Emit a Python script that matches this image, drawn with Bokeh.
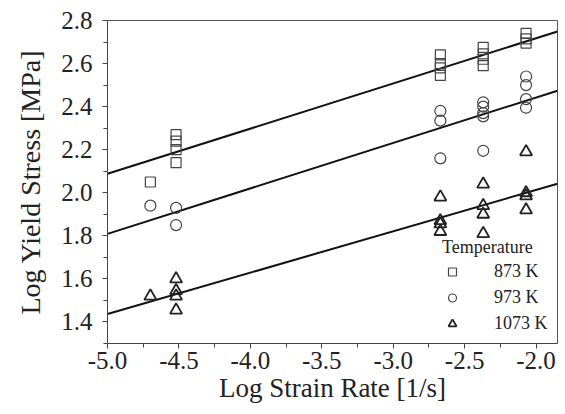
from bokeh.plotting import figure
from bokeh.models import (Range1d, FixedTicker, NumeralTickFormatter,
                          Legend, LegendItem)
from bokeh.embed import file_html
from bokeh.resources import INLINE

# ---- data ----
x873 = [-4.70, -4.52, -4.52, -4.52, -4.52,
        -2.67, -2.67, -2.67, -2.67,
        -2.37, -2.37, -2.37, -2.37,
        -2.07, -2.07, -2.07]
y873 = [2.05, 2.27, 2.24, 2.20, 2.14,
        2.64, 2.60, 2.58, 2.545,
        2.675, 2.645, 2.62, 2.59,
        2.74, 2.715, 2.695]

x973 = [-4.70, -4.52, -4.52,
        -2.67, -2.67, -2.67,
        -2.37, -2.37, -2.37, -2.37, -2.37,
        -2.07, -2.07, -2.07, -2.07]
y973 = [1.94, 1.93, 1.85,
        2.38, 2.335, 2.16,
        2.42, 2.40, 2.37, 2.355, 2.195,
        2.54, 2.50, 2.435, 2.395]

x1073 = [-4.70, -4.52, -4.52, -4.52, -4.52,
         -2.67, -2.67, -2.67, -2.67,
         -2.37, -2.37, -2.37, -2.37,
         -2.07, -2.07, -2.07, -2.07]
y1073 = [1.52, 1.60, 1.545, 1.52, 1.455,
         1.98, 1.87, 1.855, 1.82,
         2.04, 1.94, 1.90, 1.81,
         2.19, 2.00, 1.985, 1.92]

# fitted lines (end points)
fit_x = [-5.0, -1.85]
fit873 = [2.088, 2.749]
fit973 = [1.809, 2.474]
fit1073 = [1.437, 2.042]

x_ticks = [-5.0, -4.5, -4.0, -3.5, -3.0, -2.5, -2.0]
x_minor = [-5.0, -4.75, -4.5, -4.25, -4.0, -3.75, -3.5, -3.25, -3.0,
           -2.75, -2.5, -2.25, -2.0]
y_ticks = [1.4, 1.6, 1.8, 2.0, 2.2, 2.4, 2.6, 2.8]
y_minor = [1.3, 1.4, 1.5, 1.6, 1.7, 1.8, 1.9, 2.0, 2.1, 2.2, 2.3, 2.4,
           2.5, 2.6, 2.7, 2.8]

legend_labels = ["873 K", "973 K", "1073 K"]

FONT = "Liberation Serif"

p = figure(width=565, height=414,
           x_range=Range1d(-5.0, -1.85), y_range=Range1d(1.30, 2.80),
           output_backend="svg", toolbar_location=None,
           min_border_left=107, min_border_right=8,
           min_border_top=20, min_border_bottom=71)

p.background_fill_color = "white"
p.border_fill_color = "white"
p.outline_line_color = "#555555"
p.outline_line_width = 1
p.grid.visible = False

for fy in (fit873, fit973, fit1073):
    p.line(fit_x, fy, line_color="#111111", line_width=2)

r1 = p.scatter(x873, y873, marker="square", size=10, fill_color=None,
               line_color="#444444", line_width=1.2)
r2 = p.scatter(x973, y973, marker="circle", size=11, fill_color=None,
               line_color="#444444", line_width=1.2)
r3 = p.scatter(x1073, y1073, marker="triangle", size=12, fill_color=None,
               line_color="#222222", line_width=1.8)

xa = p.xaxis[0]
ya = p.yaxis[0]
xa.ticker = FixedTicker(ticks=x_ticks, minor_ticks=x_minor)
ya.ticker = FixedTicker(ticks=y_ticks, minor_ticks=y_minor)
for ax in (xa, ya):
    ax.formatter = NumeralTickFormatter(format="0.0")
    ax.axis_line_color = "#444444"
    ax.major_tick_line_color = "#444444"
    ax.minor_tick_line_color = "#444444"
    ax.major_tick_in = 0
    ax.major_tick_out = 5
    ax.minor_tick_in = 0
    ax.minor_tick_out = 4
    ax.major_label_text_font = FONT
    ax.major_label_text_font_size = "25px"
    ax.major_label_text_color = "#222222"
    ax.axis_label_text_font = FONT
    ax.axis_label_text_font_style = "normal"
    ax.axis_label_text_color = "#222222"
xa.axis_label_text_font_size = "27px"
ya.axis_label_text_font_size = "28px"
xa.axis_label = "Log Strain Rate [1/s]"
ya.axis_label = "Log Yield Stress [MPa]"
xa.major_label_standoff = 3
xa.axis_label_standoff = 1
ya.major_label_standoff = 10
ya.axis_label_standoff = 12

legend = Legend(items=[LegendItem(label=legend_labels[0], renderers=[r1]),
                       LegendItem(label=legend_labels[1], renderers=[r2]),
                       LegendItem(label=legend_labels[2], renderers=[r3])],
                title="Temperature",
                location=(335, 8))
legend.title_text_font = FONT
legend.title_text_font_size = "18px"
legend.title_text_font_style = "normal"
legend.title_text_color = "#222222"
legend.title_standoff = 2
legend.label_text_font = FONT
legend.label_text_font_size = "18px"
legend.label_text_color = "#222222"
legend.glyph_width = 20
legend.glyph_height = 23
legend.label_height = 23
legend.label_standoff = 32
legend.spacing = 3
legend.padding = 0
legend.margin = 0
legend.border_line_color = None
legend.background_fill_alpha = 0
p.add_layout(legend)

open("out.html", "w").write(file_html(p, INLINE))
